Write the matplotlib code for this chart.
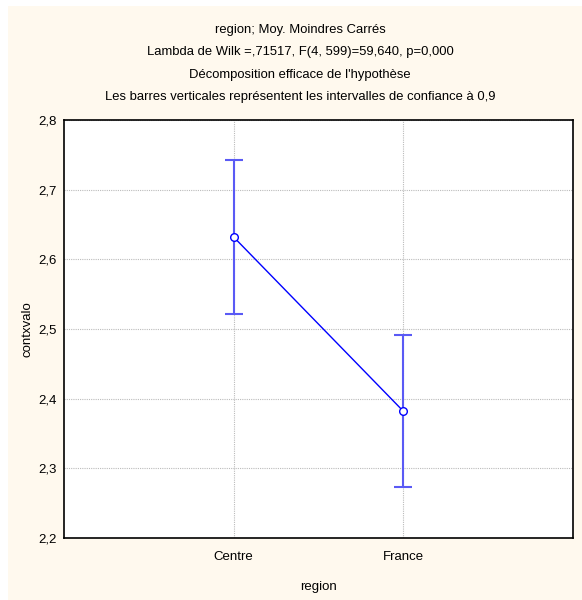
import matplotlib
matplotlib.use("Agg")
import matplotlib.pyplot as plt
from matplotlib.patches import Rectangle

categories = ["Centre", "France"]
means = [2.632, 2.382]
upper = [2.742, 2.492]
lower = [2.522, 2.273]
yticks = [2.2, 2.3, 2.4, 2.5, 2.6, 2.7, 2.8]
ytick_labels = ["2,2", "2,3", "2,4", "2,5", "2,6", "2,7", "2,8"]
title_lines = [
    "region; Moy. Moindres Carrés",
    "Lambda de Wilk =,71517, F(4, 599)=59,640, p=0,000",
    "Décomposition efficace de l'hypothèse",
    "Les barres verticales représentent les intervalles de confiance à 0,9",
]

plt.rcParams["font.family"] = ["Liberation Sans", "DejaVu Sans"]

W, H = 582, 600
fig = plt.figure(figsize=(W / 100, H / 100), dpi=100)
fig.patch.set_facecolor("white")
fig.patches.append(Rectangle((8 / W, 0), 1 - 8 / W, 1 - 6 / H, transform=fig.transFigure,
                             facecolor="#FFF9EE", edgecolor="none", zorder=-10))

ax = fig.add_axes([64 / W, 1 - 538 / H, (573 - 64) / W, (538 - 120) / H])
ax.set_facecolor("white")
x = list(range(len(categories)))
err_lo = [m - l for m, l in zip(means, lower)]
err_hi = [u - m for m, u in zip(means, upper)]
ax.errorbar(x, means, yerr=[err_lo, err_hi], fmt="none", ecolor="#5A5AF5", elinewidth=1.5,
            capsize=6.3, capthick=1.5, zorder=3)
ax.plot(x, means, color="#0000FF", lw=1.0, marker="o", ms=5.5, mfc="white", mec="#0000FF",
        mew=1.0, zorder=4)

ax.set_xlim(-1, 2)
ax.set_ylim(2.2, 2.8)
ax.set_xticks(x)
ax.set_xticklabels(categories, fontsize=9.5)
ax.set_yticks(yticks)
ax.set_yticklabels(ytick_labels, fontsize=9.5)
ax.tick_params(axis="y", length=0, pad=5)
ax.tick_params(axis="x", length=0, pad=9)
ax.grid(True, color="#BBBBBB", ls=(0, (1, 1)), lw=0.8)
ax.set_axisbelow(True)
for s in ax.spines.values():
    s.set_color("black")
    s.set_linewidth(1.2)
ax.set_ylabel("contxvalo", fontsize=9.5, labelpad=4)
ax.set_xlabel("region", fontsize=9.5, labelpad=13)

ys = [30, 52, 75, 97]
for t, yy in zip(title_lines, ys):
    fig.text(300 / W, 1 - yy / H, t, ha="center", va="center", fontsize=9.4)

fig.savefig("out.png", dpi=100, facecolor=fig.get_facecolor())
